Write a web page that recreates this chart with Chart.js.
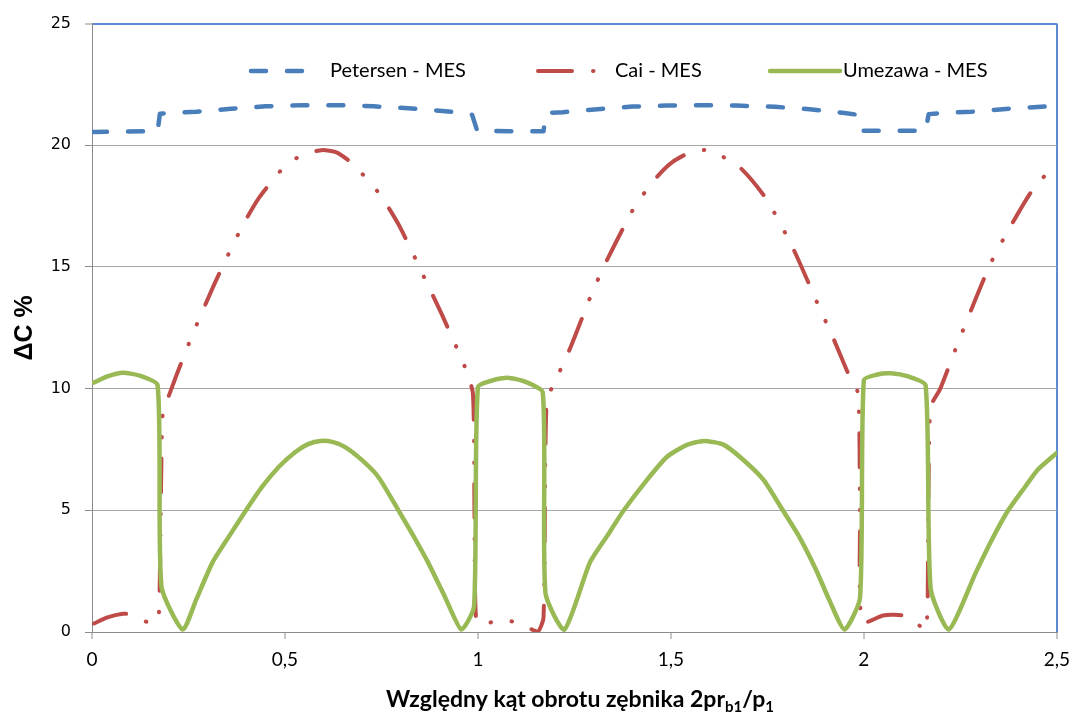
<!DOCTYPE html>
<html lang="pl">
<head>
<meta charset="UTF-8">
<title>ΔC % – Petersen, Cai, Umezawa</title>
<script src="https://cdn.jsdelivr.net/npm/chart.js"></script>
<style>
    html, body { margin: 0; padding: 0; background: #fff; }
    #wrap { width: 1079px; height: 715px; position: relative; }
</style>
</head>
<body>
<div id="wrap"><canvas id="chart"></canvas></div>
<script>
// Petersen - MES
const petersenX = [0, 0.17, 0.176, 0.2, 0.27, 0.36, 0.45, 0.55, 0.64, 0.73, 0.82, 0.9, 0.96, 0.985, 0.998, 1.08, 1.17, 1.176, 1.22, 1.31,
    1.4, 1.49, 1.58, 1.67, 1.77, 1.86, 1.95, 1.985, 1.997, 2.07, 2.16, 2.168, 2.2, 2.28, 2.38, 2.5];
const petersenY = [20.55, 20.58, 21.3, 21.32, 21.38, 21.5, 21.6, 21.65, 21.65, 21.6, 21.52, 21.42, 21.33, 21.25, 20.6, 20.58, 20.58, 21.33, 21.36, 21.48,
    21.59, 21.63, 21.65, 21.63, 21.58, 21.48, 21.33, 21.25, 20.6, 20.6, 20.6, 21.28, 21.32, 21.38, 21.51, 21.62];

// Cai - MES
const caiX = [0.005, 0.04, 0.08, 0.1, 0.145, 0.17, 0.175, 0.182, 0.19, 0.22, 0.26, 0.32, 0.387, 0.433, 0.5, 0.545, 0.595, 0.635, 0.678, 0.745,
    0.796, 0.866, 0.905, 0.966, 0.987, 0.991, 0.995, 1.015, 1.04, 1.07, 1.11, 1.155, 1.17, 1.178, 1.2, 1.24, 1.296, 1.335, 1.407, 1.464,
    1.503, 1.549, 1.598, 1.678, 1.747, 1.817, 1.88, 1.92, 1.96, 1.985, 1.99, 1.995, 2.05, 2.1, 2.147, 2.16, 2.165, 2.172, 2.198, 2.237,
    2.29, 2.33, 2.374, 2.43, 2.46, 2.5];
const caiY = [0.35, 0.6, 0.75, 0.72, 0.4, 0.45, 1.5, 8.8, 9.3, 10.6, 12.2, 14.4, 16.6, 17.85, 19.15, 19.6, 19.8, 19.7, 19.2, 18.0,
    16.7, 14.4, 13.1, 10.9, 9.8, 5, 0.6, 0.25, 0.45, 0.48, 0.35, 0.02, 0.6, 9.5, 10.3, 11.7, 13.95, 15.3, 17.5, 18.7,
    19.3, 19.7, 19.8, 19.1, 17.8, 15.75, 13.5, 12.1, 10.6, 9.8, 5, 0.4, 0.68, 0.68, 0.23, 0.05, 1, 9.2, 10.0, 11.6,
    13.7, 15.2, 16.5, 18.0, 18.6, 19.25];

// Umezawa - MES
const umezawaX = [0.005, 0.04, 0.08, 0.12, 0.17, 0.18, 0.235, 0.27, 0.312, 0.356, 0.399, 0.441, 0.485, 0.527, 0.56, 0.592, 0.625, 0.656, 0.699, 0.742,
    0.794, 0.828, 0.871, 0.914, 0.957, 0.99, 1.0, 1.04, 1.077, 1.12, 1.168, 1.175, 1.224, 1.29, 1.335, 1.378, 1.433, 1.49, 1.54, 1.585,
    1.636, 1.688, 1.74, 1.79, 1.833, 1.876, 1.91, 1.95, 1.99, 2.0, 2.035, 2.07, 2.115, 2.16, 2.173, 2.22, 2.29, 2.332, 2.374, 2.418,
    2.45, 2.5];
const umezawaY = [10.25, 10.5, 10.65, 10.55, 10.14, 1.87, 0.1, 1.33, 2.85, 3.95, 5.0, 5.97, 6.8, 7.4, 7.72, 7.85, 7.8, 7.6, 7.07, 6.37,
    5.0, 4.08, 2.85, 1.46, 0.1, 1.05, 10.06, 10.35, 10.45, 10.3, 9.84, 1.6, 0.1, 2.85, 3.95, 5.0, 6.15, 7.2, 7.68, 7.85,
    7.7, 7.07, 6.25, 5.0, 3.9, 2.56, 1.33, 0.1, 1.4, 10.35, 10.58, 10.63, 10.5, 10.14, 1.8, 0.1, 2.44, 3.8, 5.0, 5.97,
    6.66, 7.36];

const seriesNames = ['Petersen - MES', 'Cai - MES', 'Umezawa - MES'];
const xTicks = [0, 0.5, 1, 1.5, 2, 2.5];
const yTicks = [0, 5, 10, 15, 20, 25];

const BLUE = '#4A7EBB';
const RED = '#BE4B48';
const GREEN = '#98B954';
const GRID = '#A6A6A6';
const AXIS = '#8C8C8C';
const FRAME = '#5B8BD0';

function toPoints(xs, ys) {
    return xs.map((x, i) => ({ x: x, y: ys[i] }));
}

// legenda wewnatrz obszaru wykresu
const insideLegend = {
    id: 'insideLegend',
    afterDraw(chart) {
        const ctx = chart.ctx;
        const y = 71;
        const slots = [
            { lineX: 251, lineW: 58, textX: 330 },
            { lineX: 538, lineW: 58, textX: 615 },
            { lineX: 770, lineW: 70, textX: 843 }
        ];
        ctx.save();
        chart.data.datasets.forEach((ds, i) => {
            const s = slots[i];
            ctx.beginPath();
            ctx.strokeStyle = ds.borderColor;
            ctx.lineWidth = ds.borderWidth;
            ctx.lineCap = 'round';
            ctx.setLineDash(ds.borderDash || []);
            ctx.moveTo(s.lineX, y);
            ctx.lineTo(s.lineX + s.lineW, y);
            ctx.stroke();
            ctx.setLineDash([]);
            ctx.fillStyle = '#000';
            ctx.font = '20px Lato, "Open Sans", sans-serif';
            ctx.textBaseline = 'middle';
            ctx.textAlign = 'left';
            ctx.fillText(ds.label, s.textX, y);
        });
        ctx.restore();
    }
};

// tytul osi X z indeksami dolnymi
const xAxisTitle = {
    id: 'xAxisTitle',
    afterDraw(chart) {
        const ctx = chart.ctx;
        const parts = [
            { t: 'Względny kąt obrotu zębnika 2pr', size: 23, dy: 0 },
            { t: 'b1', size: 15, dy: 5 },
            { t: '/p', size: 23, dy: 0 },
            { t: '1', size: 15, dy: 5 }
        ];
        ctx.save();
        ctx.fillStyle = '#000';
        ctx.textBaseline = 'alphabetic';
        ctx.textAlign = 'left';
        let total = 0;
        parts.forEach(p => {
            ctx.font = 'bold ' + p.size + 'px Lato, "Open Sans", sans-serif';
            p.w = ctx.measureText(p.t).width;
            total += p.w;
        });
        let x = 580 - total / 2;
        const base = 707;
        parts.forEach(p => {
            ctx.font = 'bold ' + p.size + 'px Lato, "Open Sans", sans-serif';
            ctx.fillText(p.t, x, base + p.dy);
            x += p.w;
        });
        ctx.restore();
    }
};

new Chart(document.getElementById('chart'), {
    type: 'line',
    data: {
        datasets: [
            {
                label: seriesNames[0],
                data: toPoints(petersenX, petersenY),
                borderColor: BLUE,
                backgroundColor: BLUE,
                borderWidth: 4.5,
                borderDash: [15, 21],
                borderCapStyle: 'round',
                tension: 0,
                order: 2
            },
            {
                label: seriesNames[1],
                data: toPoints(caiX, caiY),
                borderColor: RED,
                backgroundColor: RED,
                borderWidth: 4,
                borderDash: [34, 21, 0.5, 21, 0.5, 21],
                borderCapStyle: 'round',
                order: 1
            },
            {
                label: seriesNames[2],
                data: toPoints(umezawaX, umezawaY),
                borderColor: GREEN,
                backgroundColor: GREEN,
                borderWidth: 4.5,
                borderCapStyle: 'round',
                order: 0
            }
        ]
    },
    options: {
        responsive: true,
        maintainAspectRatio: false,
        animation: false,
        parsing: false,
        layout: { padding: { top: 22, right: 17, left: 0, bottom: 0 } },
        elements: {
            point: { radius: 0, hoverRadius: 0 },
            line: { tension: 0.2, borderJoinStyle: 'round' }
        },
        plugins: {
            legend: { display: false },
            tooltip: { enabled: false }
        },
        scales: {
            x: {
                type: 'linear',
                min: 0,
                max: 2.5,
                afterBuildTicks: scale => { scale.ticks = xTicks.map(v => ({ value: v })); },
                afterFit: scale => { scale.height = 83; },
                ticks: {
                    color: '#000',
                    font: { family: 'Lato, "Open Sans", sans-serif', size: 19 },
                    padding: 9,
                    maxRotation: 0,
                    callback: v => String(v).replace('.', ',')
                },
                grid: {
                    color: c => (c.tick && c.tick.value === 2.5) ? FRAME : 'rgba(0,0,0,0)',
                    lineWidth: 2,
                    tickColor: AXIS,
                    tickWidth: 1,
                    tickLength: 7
                },
                border: { color: AXIS, width: 1 }
            },
            y: {
                min: 0,
                max: 25,
                afterBuildTicks: scale => { scale.ticks = yTicks.map(v => ({ value: v })); },
                afterFit: scale => { scale.width = 92; },
                ticks: {
                    color: '#000',
                    font: { family: '"DejaVu Sans", sans-serif', size: 16 },
                    padding: 14
                },
                grid: {
                    color: c => (c.tick && c.tick.value === 25) ? FRAME : GRID,
                    lineWidth: c => (c.tick && c.tick.value === 25) ? 2 : 1,
                    tickColor: AXIS,
                    tickWidth: 1,
                    tickLength: 7
                },
                border: { color: AXIS, width: 1 },
                title: {
                    display: true,
                    text: 'ΔC %',
                    color: '#000',
                    font: { family: '"Liberation Sans", Arial, sans-serif', size: 25, weight: 'bold' },
                    padding: { top: 10, bottom: 0 }
                }
            }
        }
    },
    plugins: [insideLegend, xAxisTitle]
});
</script>
</body>
</html>
